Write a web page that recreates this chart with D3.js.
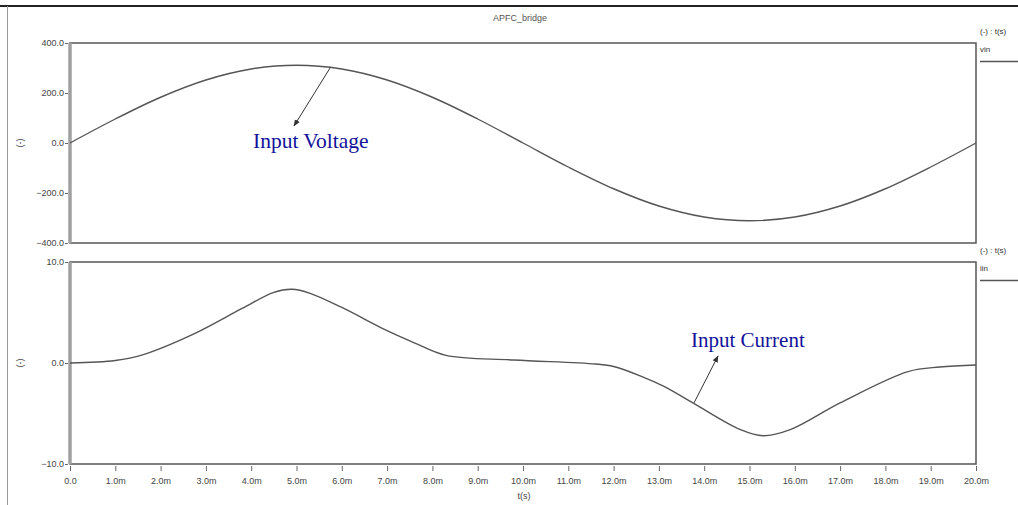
<!DOCTYPE html>
<html>
<head>
<meta charset="utf-8">
<script src="https://cdn.jsdelivr.net/npm/d3@7"></script>
<style>
  body { margin: 0; background: #fff; }
</style>
</head>
<body>
<div id="grafica"></div>
<script>
// datos
var vinT = [0, 1, 2, 3, 4, 5, 6, 7, 8, 9, 10, 11, 12, 13, 14, 15, 16, 17, 18, 19, 20];
var vinV = [0, 96, 183, 252, 296, 311, 296, 252, 183, 96, 0, -96, -183, -252, -296, -311, -296, -252, -183, -96, 0];

var iinT = [0, 1.0, 1.6, 2.7, 3.8, 4.5, 4.9, 5.3, 6.0, 7.0, 7.6, 8.3, 9.8, 11.6, 12.0, 12.6, 13.1, 13.75, 14.8, 15.3, 15.9, 17.0, 18.5, 19.2, 20];
var iinV = [0, 0.25, 0.8, 2.8, 5.4, 7.0, 7.3, 6.9, 5.5, 3.2, 2.0, 0.75, 0.3, -0.1, -0.35, -1.3, -2.3, -3.95, -6.6, -7.2, -6.6, -3.95, -0.85, -0.4, -0.2];

var xTicks = d3.range(0, 21, 1);
var vinTicks = [400, 200, 0, -200, -400];
var iinTicks = [10, 0, -10];

var W = 1018, H = 505;
var left = 70, right = 976;
var sans = "Liberation Sans, Arial, sans-serif";
var serif = "Liberation Serif, Times New Roman, serif";

var svg = d3.select("#grafica")
  .append("svg")
  .attr("width", W)
  .attr("height", H)
  .attr("font-family", sans);

// marco exterior
svg.append("line").attr("x1", 0).attr("x2", W).attr("y1", 6).attr("y2", 6)
  .attr("stroke", "#222").attr("stroke-width", 2);
svg.append("line").attr("x1", 7.5).attr("x2", 7.5).attr("y1", 6).attr("y2", H)
  .attr("stroke", "#999").attr("stroke-width", 1);

svg.append("text").attr("x", 520).attr("y", 21).attr("text-anchor", "middle")
  .attr("font-size", 9).attr("fill", "#555").text("APFC_bridge");

var x = d3.scaleLinear().domain([0, 20]).range([left, right]);

function panel(top, bottom, dom, ticks, tv, vv, name) {
  var y = d3.scaleLinear().domain(dom).range([bottom, top]);

  // caja
  svg.append("rect").attr("x", left).attr("y", top)
    .attr("width", right - left).attr("height", bottom - top)
    .attr("fill", "none").attr("stroke", "#555").attr("stroke-width", 1.5);

  // eje y
  var ay = svg.append("g")
    .attr("transform", "translate(" + (left - 2) + ",0)")
    .call(d3.axisLeft(y).tickValues(ticks).tickSize(3).tickFormat(d3.format(".1f")));
  ay.select(".domain").remove();
  ay.selectAll("line").attr("stroke", "#666");
  ay.selectAll("text").attr("font-size", 9).attr("fill", "#444").attr("dx", 2)
    .attr("font-family", sans);

  svg.append("line").attr("x1", left).attr("x2", left).attr("y1", top).attr("y2", bottom)
    .attr("stroke", "#a0a0a0").attr("stroke-width", 3.5);

  svg.append("text")
    .attr("transform", "translate(20," + y(0) + ")rotate(-90)")
    .attr("text-anchor", "middle").attr("dy", 3)
    .attr("font-size", 9).attr("fill", "#444").text("(-)");

  // curva
  var pts = tv.map(function(d, i) { return [d, vv[i]]; });
  svg.append("path")
    .datum(pts)
    .attr("fill", "none")
    .attr("stroke", "#555")
    .attr("stroke-width", 1.4)
    .attr("d", d3.line()
      .curve(d3.curveCatmullRom.alpha(0.5))
      .x(function(d) { return x(d[0]); })
      .y(function(d) { return y(d[1]); }));

  // leyenda derecha
  svg.append("text").attr("x", 980).attr("y", top - 9)
    .attr("font-size", 8).attr("fill", "#333").text("(-) : t(s)");
  svg.append("text").attr("x", 980).attr("y", top + 9)
    .attr("font-size", 8).attr("fill", "#333").text(name);
  svg.append("line").attr("x1", 980).attr("x2", W).attr("y1", top + 18.5).attr("y2", top + 18.5)
    .attr("stroke", "#555").attr("stroke-width", 1.5);

  return y;
}

var yv = panel(43, 243, [-400, 400], vinTicks, vinT, vinV, "vin");
var yi = panel(262, 464, [-10, 10], iinTicks, iinT, iinV, "iin");

// eje x
var ax = svg.append("g")
  .attr("transform", "translate(0,466)")
  .call(d3.axisBottom(x).tickValues(xTicks).tickSize(5)
    .tickFormat(function(d) { return d === 0 ? "0.0" : d + ".0m"; }));
ax.select(".domain").remove();
ax.selectAll("line").attr("stroke", "#666");
ax.selectAll("text").attr("font-size", 9).attr("fill", "#444").attr("dy", 10)
  .attr("font-family", sans);

svg.append("text").attr("x", 524).attr("y", 499).attr("text-anchor", "middle")
  .attr("font-size", 9).attr("fill", "#444").text("t(s)");

// anotaciones
svg.append("defs").append("marker")
  .attr("id", "flecha").attr("viewBox", "0 0 10 10")
  .attr("refX", 9).attr("refY", 5)
  .attr("markerWidth", 7).attr("markerHeight", 7)
  .attr("orient", "auto")
  .append("path").attr("d", "M0,1L10,5L0,9z").attr("fill", "#333");

svg.append("line")
  .attr("x1", x(5.75)).attr("y1", yv(303))
  .attr("x2", 294).attr("y2", 126)
  .attr("stroke", "#333").attr("stroke-width", 1)
  .attr("marker-end", "url(#flecha)");
svg.append("text").attr("x", 253).attr("y", 148)
  .attr("font-family", serif)
  .attr("font-size", 21.5).attr("fill", "#12129a").text("Input Voltage");

svg.append("line")
  .attr("x1", 694).attr("y1", yi(-3.95))
  .attr("x2", 718).attr("y2", 356)
  .attr("stroke", "#333").attr("stroke-width", 1)
  .attr("marker-end", "url(#flecha)");
svg.append("text").attr("x", 691).attr("y", 347)
  .attr("font-family", serif)
  .attr("font-size", 21).attr("fill", "#12129a").text("Input Current");
</script>
</body>
</html>
